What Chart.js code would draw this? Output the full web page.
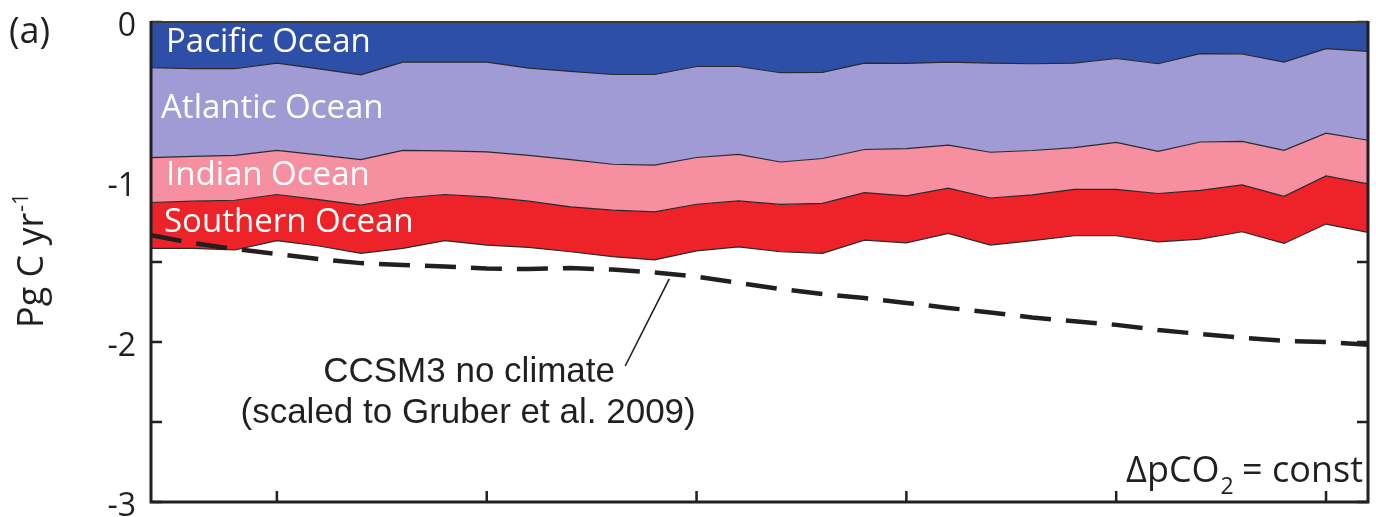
<!DOCTYPE html>
<html>
<head>
<meta charset="utf-8">
<title>Regional ocean carbon uptake</title>
<script src="https://cdn.jsdelivr.net/npm/chart.js@4.4.1/dist/chart.umd.min.js"></script>
<style>
  html, body { margin: 0; padding: 0; background: #fff; }
  #wrap { width: 1376px; height: 517px; }
  canvas { display: block; }
</style>
</head>
<body>
<div id="wrap"><canvas id="chart" width="1376" height="517"></canvas></div>
<script>
// Years along the horizontal axis (one value per year)
const years = [1982, 1983, 1984, 1985, 1986, 1987, 1988, 1989, 1990, 1991,
               1992, 1993, 1994, 1995, 1996, 1997, 1998, 1999, 2000, 2001,
               2002, 2003, 2004, 2005, 2006, 2007, 2008, 2009, 2010, 2011];

// Air-sea CO2 flux by basin, Pg C per year (stacked downward from zero)
const pacific  = [-0.286, -0.292, -0.292, -0.257, -0.293, -0.330, -0.251, -0.251, -0.251, -0.288,
                  -0.309, -0.328, -0.328, -0.278, -0.278, -0.317, -0.315, -0.257, -0.259, -0.251,
                  -0.257, -0.261, -0.257, -0.228, -0.261, -0.198, -0.200, -0.251, -0.167, -0.184];
const atlantic = [-0.562, -0.548, -0.541, -0.545, -0.537, -0.530, -0.551, -0.555, -0.561, -0.545,
                  -0.551, -0.561, -0.567, -0.569, -0.549, -0.558, -0.538, -0.540, -0.532, -0.519,
                  -0.557, -0.542, -0.528, -0.524, -0.547, -0.552, -0.546, -0.551, -0.528, -0.555];
const indian   = [-0.280, -0.280, -0.281, -0.276, -0.280, -0.285, -0.298, -0.272, -0.281, -0.287,
                  -0.295, -0.287, -0.292, -0.292, -0.291, -0.265, -0.281, -0.269, -0.296, -0.268,
                  -0.286, -0.277, -0.261, -0.294, -0.264, -0.302, -0.272, -0.287, -0.267, -0.273];
const southern = [-0.287, -0.295, -0.311, -0.289, -0.290, -0.301, -0.315, -0.289, -0.301, -0.289,
                  -0.281, -0.291, -0.300, -0.291, -0.287, -0.296, -0.312, -0.297, -0.293, -0.283,
                  -0.294, -0.287, -0.290, -0.290, -0.302, -0.305, -0.293, -0.295, -0.301, -0.303];

// CCSM3 run without climate change, scaled to Gruber et al. 2009
const ccsm3NoClimate = [-1.332, -1.382, -1.419, -1.450, -1.482, -1.507, -1.519, -1.528, -1.541, -1.544,
                        -1.538, -1.547, -1.566, -1.591, -1.631, -1.669, -1.700, -1.725, -1.756, -1.787,
                        -1.815, -1.847, -1.871, -1.893, -1.925, -1.950, -1.974, -1.993, -2.000, -2.018];

// Tick positions
const xTickYears = [1985, 1990, 1995, 2000, 2005, 2010];
const yMin = -3, yMax = 0, yStep = 0.5;

// Basin names and fills
const basinNames  = ['Pacific Ocean', 'Atlantic Ocean', 'Indian Ocean', 'Southern Ocean'];
const basinColors = ['#2e4fa8', '#a09bd4', '#f68fa0', '#ed2329'];

const INK = '#231f20';
const SANS = '"Open Sans", "Noto Sans", sans-serif';
const HELV = '"Liberation Sans", Arial, sans-serif';

const toPoints = arr => arr.map((v, i) => ({ x: years[i], y: v }));

function valueAt(series, year) {
  const i = Math.max(0, Math.min(years.length - 2, Math.floor(year - years[0])));
  const f = (year - years[i]) / (years[i + 1] - years[i]);
  return series[i] + f * (series[i + 1] - series[i]);
}

// Frame, inward ticks and text labels
const decorations = {
  id: 'decorations',
  beforeDatasetsDraw(chart) {
    const { ctx, chartArea: a, scales: { x, y } } = chart;
    ctx.save();
    ctx.strokeStyle = INK;
    ctx.lineWidth = 2.5;
    ctx.beginPath();
    y.ticks.forEach(t => {
      const py = y.getPixelForValue(t.value);
      ctx.moveTo(a.left, py);  ctx.lineTo(a.left + 11, py);
      ctx.moveTo(a.right, py); ctx.lineTo(a.right - 11, py);
    });
    x.ticks.forEach(t => {
      const px = x.getPixelForValue(t.value);
      ctx.moveTo(px, a.bottom); ctx.lineTo(px, a.bottom - 11);
    });
    ctx.stroke();
    ctx.restore();
  },
  afterDatasetsDraw(chart) {
    const { ctx, chartArea: a, scales: { x, y } } = chart;
    ctx.save();

    // plot frame
    ctx.strokeStyle = '#3a3a3a';
    ctx.lineWidth = 2;
    ctx.beginPath();
    ctx.moveTo(a.left, a.top); ctx.lineTo(a.right, a.top);
    ctx.stroke();
    ctx.strokeStyle = INK;
    ctx.lineWidth = 3;
    ctx.beginPath();
    ctx.moveTo(a.left, a.top - 1); ctx.lineTo(a.left, a.bottom);
    ctx.lineTo(a.right, a.bottom); ctx.lineTo(a.right, a.top - 1);
    ctx.stroke();

    // basin names inside their bands
    ctx.fillStyle = '#ffffff';
    ctx.font = '33px ' + SANS;
    ctx.textAlign = 'left';
    ctx.textBaseline = 'alphabetic';
    const nameSpots = [[15, 30], [10, 96], [15, 163], [13, 210]];
    basinNames.forEach((n, i) => ctx.fillText(n, a.left + nameSpots[i][0], a.top + nameSpots[i][1]));

    // leader from the note to the dashed curve
    const tipYear = 1994.35, footYear = 1993.3;
    const tipX = x.getPixelForValue(tipYear);
    const tipY = y.getPixelForValue(valueAt(ccsm3NoClimate, tipYear)) + 5;
    ctx.strokeStyle = INK;
    ctx.lineWidth = 1.6;
    ctx.beginPath();
    ctx.moveTo(x.getPixelForValue(footYear), y.getPixelForValue(-2.15));
    ctx.lineTo(tipX, tipY);
    ctx.stroke();

    // note for the dashed curve
    ctx.fillStyle = INK;
    ctx.font = '35px ' + HELV;
    ctx.textAlign = 'center';
    const noteX = x.getPixelForValue(1989.58);
    ctx.fillText('CCSM3 no climate', noteX, y.getPixelForValue(-2.247));
    ctx.fillText('(scaled to Gruber et al. 2009)', noteX - 1, y.getPixelForValue(-2.507));

    // ΔpCO2 = const, lower right
    ctx.textAlign = 'left';
    const bigFont = '36px ' + SANS, subFont = '23px ' + SANS;
    const base = a.bottom - 20.5;
    ctx.font = bigFont;
    const tail = ' = const';
    const wTail = ctx.measureText(tail).width;
    const wHead = ctx.measureText('\u0394pCO').width;
    ctx.font = subFont;
    const wSub = ctx.measureText('2').width;
    let cx = a.right - 5 - wTail - wSub - wHead;
    ctx.font = bigFont;
    ctx.fillText('\u0394pCO', cx, base);
    cx += wHead;
    ctx.font = subFont;
    ctx.fillText('2', cx + 1, base + 12);
    cx += wSub;
    ctx.font = bigFont;
    ctx.fillText(tail, cx, base);

    // panel letter
    ctx.font = '36px ' + SANS;
    ctx.fillText('(a)', 9, 43);

    // vertical axis title with superscript
    ctx.translate(43, y.getPixelForValue((yMin + yMax) / 2) + 66);
    ctx.rotate(-Math.PI / 2);
    ctx.font = '36px ' + SANS;
    ctx.textAlign = 'left';
    const main = 'Pg C yr';
    ctx.fillText(main, 0, 0);
    const wMain = ctx.measureText(main).width;
    ctx.font = '21px ' + SANS;
    ctx.fillText('-1', wMain + 1, -15);

    ctx.restore();
  }
};

const basinSeries = [pacific, atlantic, indian, southern];

const datasets = [
  {
    label: 'CCSM3 no climate',
    data: toPoints(ccsm3NoClimate),
    stack: 'ccsm3',
    borderColor: INK,
    borderWidth: 4.5,
    borderDash: [31, 15],
    borderCapStyle: 'butt',
    fill: false
  }
].concat(basinSeries.map((s, i) => ({
  label: basinNames[i],
  data: toPoints(s),
  stack: 'basins',
  backgroundColor: basinColors[i],
  borderColor: '#2a2a2a',
  borderWidth: 1.2,
  fill: i === 0 ? 'origin' : '-1'
})));

new Chart(document.getElementById('chart'), {
  type: 'line',
  data: { datasets },
  options: {
    responsive: false,
    animation: false,
    devicePixelRatio: 1,
    layout: { padding: { top: 22, right: 8, bottom: 0, left: 0 } },
    elements: { line: { tension: 0 }, point: { radius: 0, hoverRadius: 0 } },
    plugins: {
      legend: { display: false },
      tooltip: { enabled: false },
      filler: { propagate: false }
    },
    scales: {
      x: {
        type: 'linear',
        min: years[0],
        max: years[years.length - 1],
        grid: { display: false, drawTicks: false },
        border: { display: false },
        ticks: { display: false },
        afterBuildTicks: s => { s.ticks = xTickYears.map(v => ({ value: v })); },
        afterFit: s => { s.height = 15; s.paddingLeft = 0; s.paddingRight = 0; }
      },
      y: {
        stacked: true,
        min: yMin,
        max: yMax,
        grid: { display: false, drawTicks: false },
        border: { display: false },
        ticks: {
          stepSize: yStep,
          padding: 15,
          labelOffset: 5,
          color: INK,
          font: { family: SANS, size: 32 },
          callback: v => Number.isInteger(v) ? String(v) : ''
        },
        afterFit: s => { s.width = 151; s.paddingTop = 0; s.paddingBottom = 0; }
      }
    }
  },
  plugins: [decorations]
});
</script>
</body>
</html>
